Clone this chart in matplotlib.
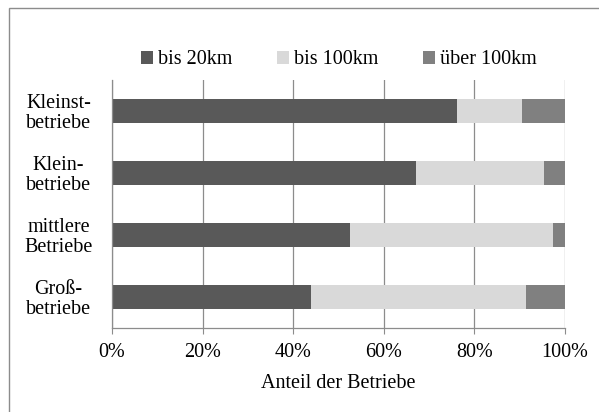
import matplotlib
matplotlib.use("Agg")
import matplotlib.pyplot as plt
from matplotlib.patches import Rectangle
from matplotlib.ticker import FuncFormatter

plt.rcParams["font.family"] = ["Liberation Serif", "DejaVu Serif"]
plt.rcParams["font.size"] = 14.5

# Anteile je Betriebsgröße (Prozent), Reihenfolge von oben nach unten
categories = ["Kleinst-\nbetriebe", "Klein-\nbetriebe", "mittlere\nBetriebe", "Groß-\nbetriebe"]
series_names = ["bis 20km", "bis 100km", "über 100km"]
bis_20km = [76.2, 67.1, 52.5, 43.9]
bis_100km = [14.3, 28.3, 44.9, 47.5]
ueber_100km = [9.5, 4.6, 2.6, 8.6]
colors = ["#595959", "#d9d9d9", "#808080"]
x_ticks = [0, 20, 40, 60, 80, 100]

grid_color = "#8c8c8c"

fig = plt.figure(figsize=(5.99, 4.12), dpi=100)
ax = fig.add_axes([112 / 599, 84 / 412, 453 / 599, 248 / 412])

positions = list(range(len(categories)))
left = [0.0] * len(categories)
for name, values, color in zip(series_names, [bis_20km, bis_100km, ueber_100km], colors):
    ax.barh(positions, values, left=left, height=0.4, color=color, label=name, zorder=2)
    left = [a + b for a, b in zip(left, values)]

ax.set_xlim(0, 100)
ax.set_ylim(len(categories) - 0.5, -0.5)
ax.set_xticks(x_ticks)
ax.xaxis.set_major_formatter(FuncFormatter(lambda v, _: f"{v:.0f}%"))
ax.set_yticks(positions)
ax.set_yticklabels(categories, multialignment="center")
for label in ax.get_yticklabels():
    label.set_horizontalalignment("center")
    label.set_linespacing(1.05)

ax.tick_params(axis="y", left=False, pad=35)
ax.tick_params(axis="x", direction="out", length=4.5, width=0.8, color=grid_color, pad=6)

ax.set_axisbelow(True)
ax.grid(axis="x", color=grid_color, linewidth=0.9)
for side in ["top", "right"]:
    ax.spines[side].set_visible(False)
for side in ["left", "bottom"]:
    ax.spines[side].set_color(grid_color)
    ax.spines[side].set_linewidth(0.9)

ax.set_xlabel("Anteil der Betriebe", labelpad=9)

fig.legend(loc="center", bbox_to_anchor=(0.566, 0.855), ncol=3, frameon=False,
           handlelength=0.6, handleheight=0.6, handletextpad=0.25, columnspacing=2.2,
           borderpad=0)

# Rahmen um den Diagrammbereich
fig.add_artist(Rectangle((9 / 599, -0.1), 1.5, (404 / 412) + 0.1, transform=fig.transFigure,
                         fill=False, edgecolor="#8c8c8c", linewidth=1.0))

fig.savefig("out.png", dpi=100)
